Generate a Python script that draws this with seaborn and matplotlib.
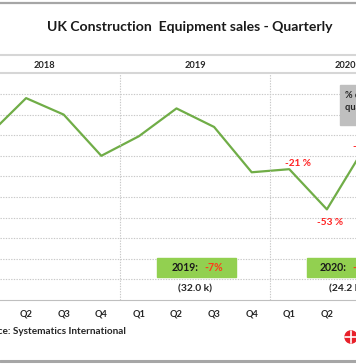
import numpy as np
import pandas as pd
import seaborn as sns
import matplotlib.pyplot as plt
from matplotlib.lines import Line2D
from matplotlib.patches import Rectangle, Circle
from matplotlib.offsetbox import TextArea, HPacker, AnnotationBbox

# quarterly sales, thousands of units (2018 Q1 .. 2020 Q4)
years = ['2018', '2019', '2020']
quarters = ['Q1', 'Q2', 'Q3', 'Q4'] * 3
sales_k = [8.0, 9.8, 9.0, 7.0, 7.95, 9.3, 8.4, 6.2, 6.35, 4.4, 7.4, 5.8]

# % change on same quarter of previous year
change_idx = [8, 9, 10]
change_txt = ['-21 %', '-53 %', '-9 %']

# yearly summary boxes
box_years = ['2019', '2020']
box_change = ['-7%', '-24%']
box_total = ['(32.0 k)', '(24.2 k)']

sns.set_style('white')
plt.rcParams['font.family'] = ['Lato', 'DejaVu Sans']

df = pd.DataFrame({'idx': np.arange(len(sales_k)), 'sales': sales_k})

W, H = 356, 364
fig = plt.figure(figsize=(W / 100, H / 100), dpi=100)
ax = fig.add_axes([0, 64 / H, 1, 226.6 / H])

sns.lineplot(data=df, x='idx', y='sales', ax=ax, color='#70AD47', lw=1.6)
ax.set_xlabel('')
ax.set_ylabel('')

# grid
ax.set_yticks(np.arange(1, 11))
ax.set_yticklabels([])
ax.tick_params(axis='y', length=0)
ax.grid(axis='y', color='#C8C8C8', lw=0.8, ls=(0, (1.2, 1.2)))
for b in [3.5, 7.5]:
    ax.axvline(b, color='#C8C8C8', lw=0.8, ls=(0, (1.2, 1.2)))

# quarter ticks and labels
ax.set_xticks(np.arange(-0.5, 12, 1))
ax.set_xticklabels([])
ax.tick_params(axis='x', which='major', length=4, width=0.8, color='#BFBFBF', direction='out')
ax.set_xticks(np.arange(len(quarters)), minor=True)
ax.set_xticklabels(quarters, minor=True, fontsize=6.7, fontweight='bold', color='#262626')
ax.tick_params(axis='x', which='minor', length=0, pad=7)

ax.set_xlim(0.306, 9.774)
ax.set_ylim(0, 11)

for s in ['left', 'right']:
    ax.spines[s].set_visible(False)
ax.spines['bottom'].set_color('#BFBFBF')
ax.spines['top'].set_color('#D6D6D6')
ax.spines['top'].set_linewidth(1.5)

# year header
xt = ax.get_xaxis_transform()
for i, y in enumerate(years):
    ax.text(4 * i + 1.5, 1.0327, y, transform=xt, ha='center', va='center',
            fontsize=6.7, fontweight='bold', color='#262626', clip_on=False)

# change labels
offsets = [(6, 4.3), (2, -9.4), (-8.3, 0.7)]
aligns = ['center', 'center', 'left']
for i, t, off, al in zip(change_idx, change_txt, offsets, aligns):
    ax.annotate(t, (i, sales_k[i]), xytext=off, textcoords='offset points',
                ha=al, va='center', fontsize=7.2, fontweight='bold', color='#FF2020',
                annotation_clip=False)

# summary boxes
for k, (y, c, tot) in enumerate(zip(box_years, box_change, box_total)):
    cx = 4 * (k + 1) + 1.5
    ax.add_patch(Rectangle((cx - 1.02, 1.12), 2.1, 0.92, color='#92D050', zorder=3))
    pack = HPacker(children=[
        TextArea(y + ':', textprops=dict(fontsize=7.6, fontweight='bold', color='#1a1a1a')),
        TextArea(c, textprops=dict(fontsize=7.6, fontweight='bold', color='#FF3A1A'))],
        sep=4, pad=0, align='baseline')
    ax.add_artist(AnnotationBbox(pack, (cx + 0.06, 1.58), frameon=False,
                                 box_alignment=(0.5, 0.5), zorder=4))
    ax.text(cx, 0.53, tot, ha='center', va='center', fontsize=7.4,
            fontweight='bold', color='#262626')

# legend note box at right
ax.add_patch(Rectangle((9.35, 8.5), 1.2, 1.94, color='#BFBFBF', zorder=3))
ax.text(9.48, 10.15, '% change on\nquarter 2019', ha='left', va='top', fontsize=6.7,
        fontweight='bold', color='#262626', linespacing=1.45, zorder=4)

# title, frame lines, source
fig.text(0.533, 1 - 27 / H, 'UK Construction  Equipment sales - Quarterly',
         ha='center', va='center', fontsize=10.1, fontweight='bold', color='#1a1a1a')
fig.add_artist(Line2D([0, 1], [1 - 3 / H] * 2, color='#A6A6A6', lw=1.6))
fig.add_artist(Line2D([0, 1], [1 - 55 / H] * 2, color='#D6D6D6', lw=1.5))
fig.add_artist(Line2D([0, 1], [1 - 361 / H] * 2, color='#A6A6A6', lw=2.2))
fig.text(126 / W, 1 - 331 / H, 'Source: Systematics International', ha='right',
         va='center', fontsize=7.2, fontweight='bold', color='#262626')

# logo
fig.add_artist(Circle((351 / W, 1 - 337 / H), 6 / W, transform=fig.transFigure,
                      color='#E8202A'))
fig.add_artist(Line2D([345 / W, 357 / W], [1 - 337 / H] * 2, color='white', lw=1.2))
fig.add_artist(Line2D([351 / W] * 2, [1 - 331 / H, 1 - 343 / H], color='white', lw=1.2))

fig.savefig('out.png', dpi=100)
